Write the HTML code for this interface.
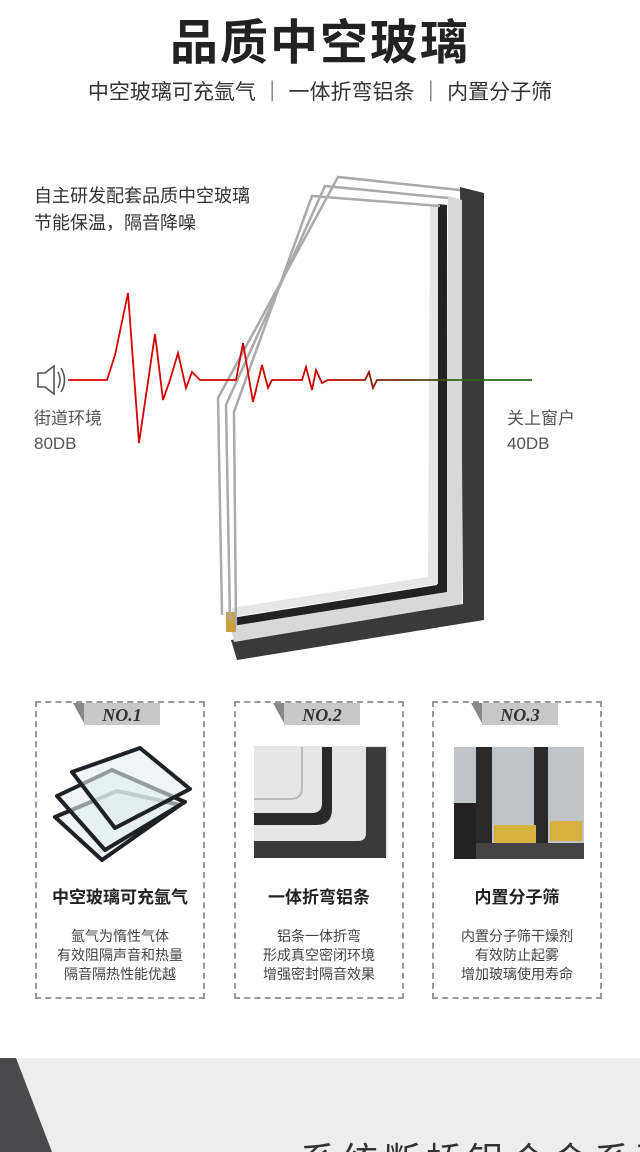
<!DOCTYPE html>
<html><head><meta charset="utf-8"><style>
body{margin:0;width:640px;height:1152px;overflow:hidden;background:#fff;font-family:"Liberation Sans","Noto Sans CJK SC",sans-serif;position:relative}
.t{position:absolute;white-space:nowrap}
.card{position:absolute;top:701px;width:170px;height:298px;border:2px dashed #999;box-sizing:border-box}
.tab{position:absolute;top:0;height:22px;width:76px;background:#c8c8c8;font-family:"Liberation Serif",serif;font-style:italic;font-weight:bold;font-size:18px;color:#333;text-align:center;line-height:24px}
.tri{position:absolute;top:0;width:0;height:0;border-top:22px solid #888;border-left:12px solid transparent}
.ct{position:absolute;left:0;width:100%;text-align:center;top:180px;font-size:17px;font-weight:bold;color:#222}
.cd{position:absolute;left:0;width:100%;text-align:center;top:224px;font-size:14px;line-height:19px;color:#444}
</style></head><body>
<div class="t" style="left:0;width:640px;text-align:center;top:3px;font-size:48px;font-weight:bold;color:#222;letter-spacing:2px">品质中空玻璃</div>
<div class="t" style="left:0;width:640px;text-align:center;top:76px;font-size:21px;color:#333">中空玻璃可充氩气 ｜ 一体折弯铝条 ｜ 内置分子筛</div>
<div class="t" style="left:34px;top:183px;font-size:18px;line-height:27px;color:#333">自主研发配套品质中空玻璃<br>节能保温，隔音降噪</div>
<div class="t" style="left:34px;top:406px;font-size:17px;line-height:25px;color:#555">街道环境<br>80DB</div>
<div class="t" style="left:507px;top:406px;font-size:17px;line-height:25px;color:#555">关上窗户<br>40DB</div>
<svg width="640" height="700" style="position:absolute;left:0;top:0">
<defs><linearGradient id="w" x1="0" x2="1"><stop offset="0" stop-color="#d00"/><stop offset="0.55" stop-color="#c00"/><stop offset="0.72" stop-color="#6a2a10"/><stop offset="0.85" stop-color="#2a6a10"/><stop offset="1" stop-color="#1a6a1a"/></linearGradient></defs>
<polygon points="460,187 484,193 484,620 237,660 231,640 463,604" fill="#3a3a3a"/>
<polygon points="448,196 462,200 462,604 234,642 230,625 446,590" fill="#d8d8d8"/>
<polygon points="438,204 447,205 447,592 232,626 232,618 437,585" fill="#222"/>
<polygon points="430,206 438,206 438,584 232,617 232,608 428,577" fill="#e6e6e6"/>
<rect x="226" y="612" width="10" height="20" fill="#c9a040"/>
<g fill="none" stroke="#aaa" stroke-width="2.5">
<polyline points="460,190 338,177 218,398 222,615"/>
<polyline points="448,198 325,186 226,405 230,620"/>
<polyline points="440,206 312,196 234,412 236,625"/>
</g>
<g fill="none" stroke="#555" stroke-width="1.6">
<path d="M38,373 h7 l9,-7 v28 l-9,-7 h-7 z"/>
<path d="M58,372 q4,8 0,16"/><path d="M61,368 q7,12 0,24"/>
</g>
<polyline fill="none" stroke="url(#w)" stroke-width="1.8" points="68,380 107,380 115,355 128,293 139,443 155,334 163,400 170,380 178,353 186,388 192,372 200,380 236,380 243,343 253,402 262,365 268,388 272,380 302,380 306,367 312,390 316,370 322,383 328,380 365,380 369,372 373,388 377,380 532,380"/>
</svg>
<div class="card" style="left:35px"><div class="tri" style="left:36px"></div><div class="tab" style="left:47px">NO.1</div>
<svg width="170" height="170" style="position:absolute;left:0;top:0" fill="rgba(225,238,238,0.6)" stroke="#1e2226" stroke-width="4" stroke-linejoin="round"><polygon points="18,114 80,88 143,102 65,157"/><polygon points="20,93 75,67 148,99 68,147"/><polygon points="35,69 103,45 153,86 78,125"/></svg>
<div class="ct">中空玻璃可充氩气</div><div class="cd">氩气为惰性气体<br>有效阻隔声音和热量<br>隔音隔热性能优越</div></div>
<div class="card" style="left:234px"><div class="tri" style="left:37px"></div><div class="tab" style="left:48px">NO.2</div>
<svg width="170" height="120" style="position:absolute;left:0;top:40px"><rect x="18" y="3" width="134" height="112" fill="#e6e6e6"/><path d="M150,4 H130 V90 Q130,98 122,98 H18 V115 H150Z" fill="#3a3a3a"/><path d="M96,4 H86 V60 Q86,70 76,70 H18 V82 H80 Q96,82 96,66Z" fill="#2a2a2a"/><path d="M66,4 V45 Q66,56 54,56 H18" stroke="#bbb" fill="none" stroke-width="2"/></svg>
<div class="ct">一体折弯铝条</div><div class="cd">铝条一体折弯<br>形成真空密闭环境<br>增强密封隔音效果</div></div>
<div class="card" style="left:432px"><div class="tri" style="left:37px"></div><div class="tab" style="left:48px">NO.3</div>
<svg width="170" height="120" style="position:absolute;left:0;top:40px"><rect x="20" y="4" width="130" height="112" fill="#bfc4c8"/><rect x="20" y="60" width="30" height="56" fill="#222"/><rect x="42" y="4" width="16" height="112" fill="#2a2a2a"/><rect x="100" y="4" width="14" height="112" fill="#2a2a2a"/><rect x="60" y="82" width="42" height="22" fill="#d8b040"/><rect x="116" y="78" width="32" height="20" fill="#d8b040"/><rect x="42" y="100" width="108" height="16" fill="#444"/></svg>
<div class="ct">内置分子筛</div><div class="cd">内置分子筛干燥剂<br>有效防止起雾<br>增加玻璃使用寿命</div></div>
<div style="position:absolute;left:0;top:1058px;width:640px;height:94px;background:#ededed;overflow:hidden">
<svg width="60" height="94" style="position:absolute;left:0;top:0"><polygon points="0,0 16,0 52,94 0,94" fill="#4a4a4c"/></svg>
<div class="t" style="left:300px;top:74px;font-size:36px;color:#333;letter-spacing:6px">系统断桥铝合金系列</div>
</div>
</body></html>
